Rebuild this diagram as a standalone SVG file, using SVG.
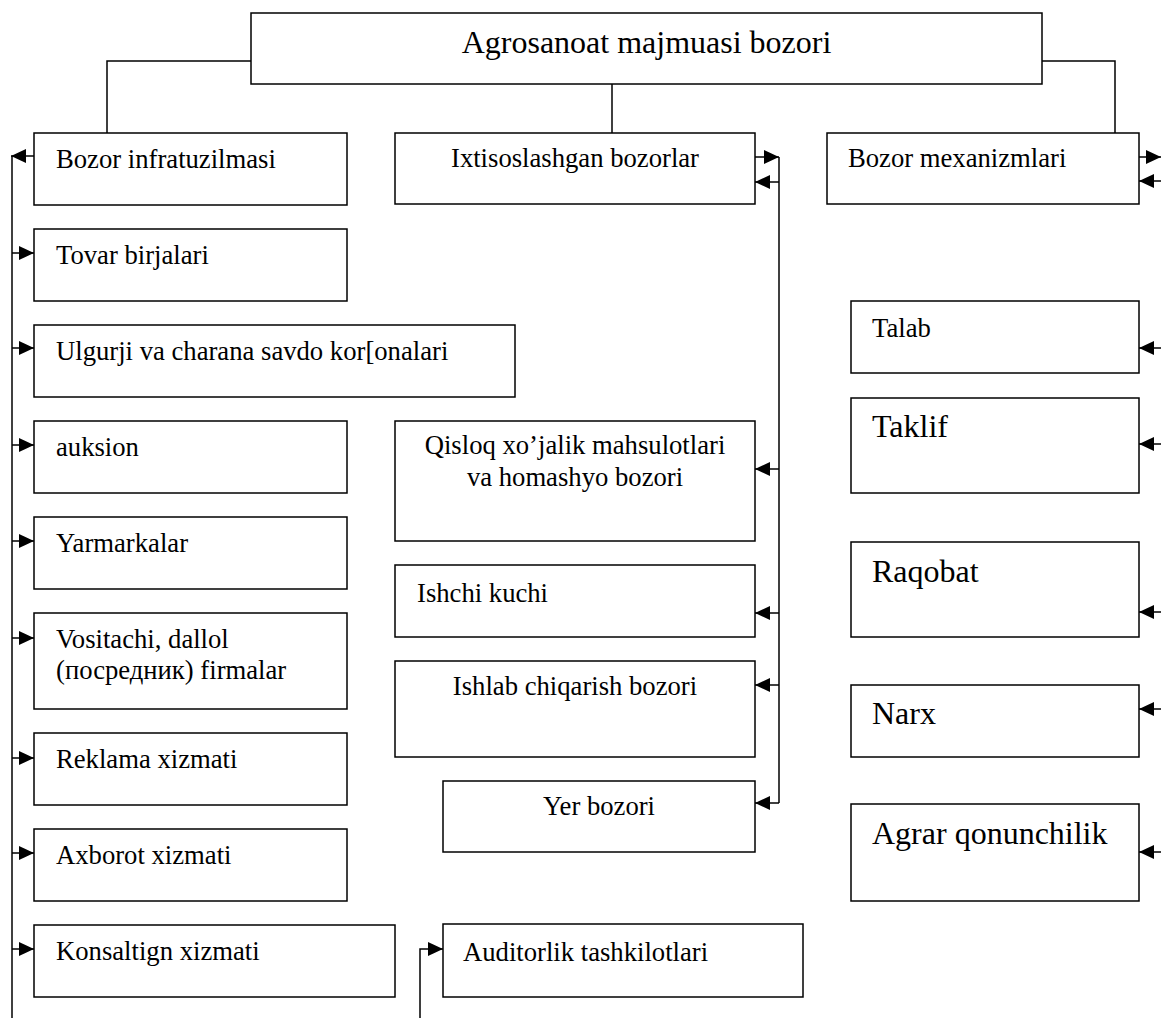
<svg xmlns="http://www.w3.org/2000/svg" width="1161" height="1018" viewBox="0 0 1161 1018">
<style>
.box{fill:#fff;stroke:#000;stroke-width:1.5}
text{font-family:'Liberation Serif','Times New Roman','DejaVu Serif',serif;fill:#000}
.t{font-size:26.67px}
.tl{font-size:32px}
.c{text-anchor:middle}
.ln{fill:none;stroke:#000;stroke-width:1.5}
.ar{fill:none;stroke:#000;stroke-width:1.5;marker-end:url(#ah)}
</style>
<defs>
<marker id="ah" markerUnits="userSpaceOnUse" markerWidth="16" markerHeight="14" refX="15" refY="7" orient="auto">
<path d="M0,0 L15,7 L0,14 Z" fill="#000"/>
</marker>
</defs>
<rect width="1161" height="1018" fill="#fff"/>
<g id="connectors">
<polyline class="ln" points="251,61 107,61 107,133"/>
<line class="ln" x1="612" y1="84" x2="612" y2="133"/>
<polyline class="ln" points="1042,61 1115,61 1115,133"/>
<line class="ln" x1="12" y1="156" x2="12" y2="1018"/>
<line class="ar" x1="34" y1="156" x2="11" y2="156"/>
<line class="ar" x1="12" y1="253" x2="34" y2="253"/>
<line class="ar" x1="12" y1="348" x2="34" y2="348"/>
<line class="ar" x1="12" y1="445" x2="34" y2="445"/>
<line class="ar" x1="12" y1="541" x2="34" y2="541"/>
<line class="ar" x1="12" y1="638" x2="34" y2="638"/>
<line class="ar" x1="12" y1="758" x2="34" y2="758"/>
<line class="ar" x1="12" y1="853" x2="34" y2="853"/>
<line class="ar" x1="12" y1="949" x2="34" y2="949"/>
<line class="ar" x1="755" y1="157" x2="779" y2="157"/>
<line class="ln" x1="779" y1="157" x2="779" y2="803"/>
<line class="ar" x1="779" y1="182" x2="755" y2="182"/>
<line class="ar" x1="779" y1="469" x2="755" y2="469"/>
<line class="ar" x1="779" y1="613" x2="755" y2="613"/>
<line class="ar" x1="779" y1="685" x2="755" y2="685"/>
<line class="ar" x1="779" y1="803" x2="755" y2="803"/>
<line class="ar" x1="1139" y1="157" x2="1161" y2="157"/>
<line class="ar" x1="1161" y1="181" x2="1139" y2="181"/>
<line class="ar" x1="1161" y1="348" x2="1139" y2="348"/>
<line class="ar" x1="1161" y1="444" x2="1139" y2="444"/>
<line class="ar" x1="1161" y1="612" x2="1139" y2="612"/>
<line class="ar" x1="1161" y1="709" x2="1139" y2="709"/>
<line class="ar" x1="1161" y1="852" x2="1139" y2="852"/>
<polyline class="ar" points="420,1018 420,949 443,949"/>
</g>
<g id="title"><rect class="box" x="251" y="13" width="791" height="71"/><text class="tl c" x="646.5" y="53">Agrosanoat majmuasi bozori</text></g>
<g id="infra"><rect class="box" x="34" y="133" width="313" height="72"/><text class="t" x="56" y="168">Bozor infratuzilmasi</text></g>
<g id="tovar"><rect class="box" x="34" y="229" width="313" height="72"/><text class="t" x="56" y="264">Tovar birjalari</text></g>
<g id="ulgurji"><rect class="box" x="34" y="325" width="481" height="72"/><text class="t" x="56" y="360">Ulgurji va charana savdo kor[onalari</text></g>
<g id="auksion"><rect class="box" x="34" y="421" width="313" height="72"/><text class="t" x="56" y="456">auksion</text></g>
<g id="yarmarkalar"><rect class="box" x="34" y="517" width="313" height="72"/><text class="t" x="56" y="552">Yarmarkalar</text></g>
<g id="vositachi"><rect class="box" x="34" y="613" width="313" height="96"/><text class="t" x="56" y="648">Vositachi, dallol</text><text class="t" x="56" y="679">(посредник) firmalar</text></g>
<g id="reklama"><rect class="box" x="34" y="733" width="313" height="72"/><text class="t" x="56" y="768">Reklama xizmati</text></g>
<g id="axborot"><rect class="box" x="34" y="829" width="313" height="72"/><text class="t" x="56" y="864">Axborot xizmati</text></g>
<g id="konsalting"><rect class="box" x="34" y="925" width="361" height="72"/><text class="t" x="56" y="960">Konsaltign xizmati</text></g>
<g id="ixtisos"><rect class="box" x="395" y="133" width="360" height="71"/><text class="t c" x="575" y="167">Ixtisoslashgan bozorlar</text></g>
<g id="qisloq"><rect class="box" x="395" y="421" width="360" height="120"/><text class="t c" x="575" y="454">Qisloq xo’jalik mahsulotlari</text><text class="t c" x="575" y="486">va homashyo bozori</text></g>
<g id="ishchi"><rect class="box" x="395" y="565" width="360" height="72"/><text class="t" x="417" y="602">Ishchi kuchi</text></g>
<g id="ishlab"><rect class="box" x="395" y="661" width="360" height="96"/><text class="t c" x="575" y="695">Ishlab chiqarish bozori</text></g>
<g id="yer"><rect class="box" x="443" y="781" width="312" height="71"/><text class="t c" x="599" y="815">Yer bozori</text></g>
<g id="auditorlik"><rect class="box" x="443" y="924" width="360" height="73"/><text class="t" x="463" y="961">Auditorlik tashkilotlari</text></g>
<g id="mexanizm"><rect class="box" x="827" y="133" width="312" height="71"/><text class="t" x="848" y="167">Bozor mexanizmlari</text></g>
<g id="talab"><rect class="box" x="851" y="301" width="288" height="72"/><text class="t" x="872" y="337">Talab</text></g>
<g id="taklif"><rect class="box" x="851" y="398" width="288" height="95"/><text class="tl" x="872" y="437">Taklif</text></g>
<g id="raqobat"><rect class="box" x="851" y="542" width="288" height="95"/><text class="tl" x="872" y="582">Raqobat</text></g>
<g id="narx"><rect class="box" x="851" y="685" width="288" height="72"/><text class="tl" x="872" y="724">Narx</text></g>
<g id="agrar"><rect class="box" x="851" y="804" width="288" height="97"/><text class="tl" x="872" y="844">Agrar qonunchilik</text></g>
</svg>
